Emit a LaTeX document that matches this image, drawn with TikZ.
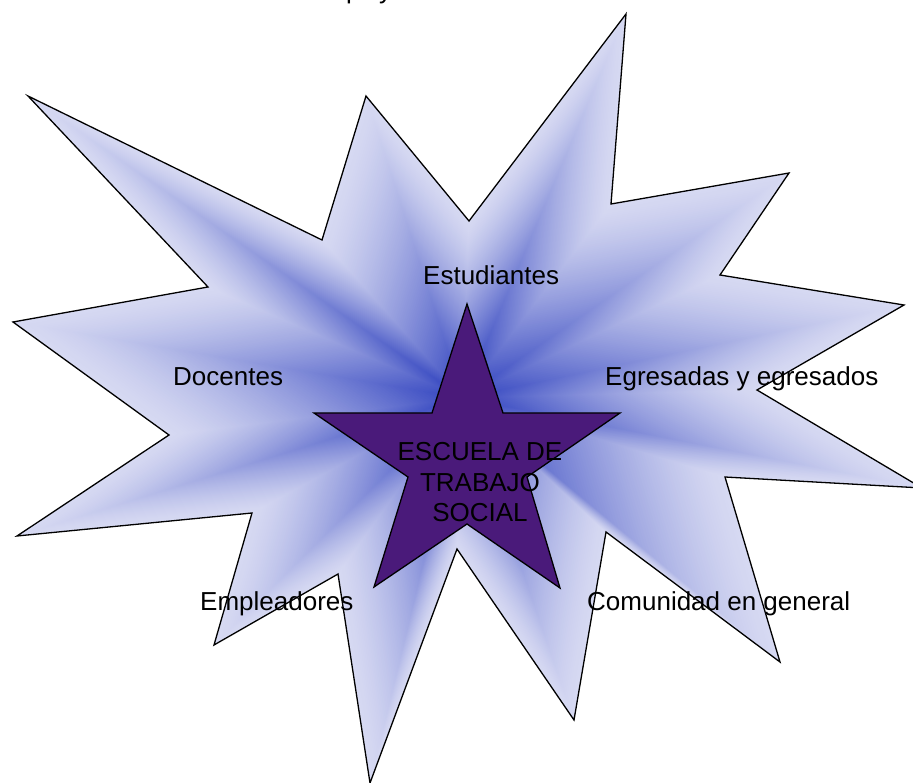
\documentclass[tikz,border=0pt]{standalone}
\usepackage{fontspec}
\setmainfont{Liberation Sans}
\definecolor{lightc}{RGB}{214,217,242}
\definecolor{darkc}{RGB}{50,68,192}
\definecolor{starc}{RGB}{74,26,122}
\tikzset{
  burst/.style={insert path={(-435,-302) -- (-141,-158) -- (-97,-302) -- (6,-177) -- (163,-384) -- (148,-194) -- (326,-225) -- (257,-123) -- (441,-93) -- (294,-8) -- (459,90) -- (262,79) -- (317,264) -- (143,134) -- (111,322) -- (-6,151) -- (-93,385) -- (-125,176) -- (-249,247) -- (-211,115) -- (-446,138) -- (-294,37) -- (-450,-76) -- (-255,-111) -- cycle}},
  lbl/.style={anchor=base west, inner sep=0pt, font=\fontsize{26}{30.5}\selectfont},
  outline/.style={draw=black, line width=1.3pt, line join=miter}
}
\begin{document}
\begin{tikzpicture}[x=1pt,y=-1pt]
\useasboundingbox (0,0) rectangle (913,783);
% burst with path gradient (nested scaled copies)
\foreach \k in {0,...,89}{
  \pgfmathsetmacro\s{1-\k/90}
  \pgfmathsetmacro\p{100*(\k/90)^1.35}
  \begin{scope}[shift={(463,398)}, scale=\s]
    \fill[darkc!\p!lightc] [burst];
  \end{scope}
}
\begin{scope}[shift={(463,398)}]
  \draw[outline] [burst];
\end{scope}
% central star
\draw[outline, fill=starc] (467,304) -- (503,413) -- (620,413) -- (527,477) -- (560,588) -- (467,524) -- (374,587) -- (408,477) -- (314,413) -- (432,413) -- cycle;
% labels
\node[lbl] (est) at (423,285) {Estudiantes};
\node[lbl] (doc) at (173,386) {Docentes};
\node[lbl] (egr) at (605,386) {Egresadas y egresados};
\node[lbl] (emp) at (200,610) {Empleadores};
\node[lbl] (com) at (587,610) {Comunidad en general};
\node[anchor=center, inner sep=0pt, align=center, font=\fontsize{26}{30.5}\selectfont] (ets) at (480,482.5) {ESCUELA DE\\TRABAJO\\SOCIAL};
% text cut off at the top edge, as in the reference
\begin{scope}
  \clip (0,0) rectangle (913,783);
  \node[lbl] (tp) at (346,-1.5) {p};
  \node[lbl] (ty) at (379,-1.5) {y};
\end{scope}
\end{tikzpicture}
\end{document}
